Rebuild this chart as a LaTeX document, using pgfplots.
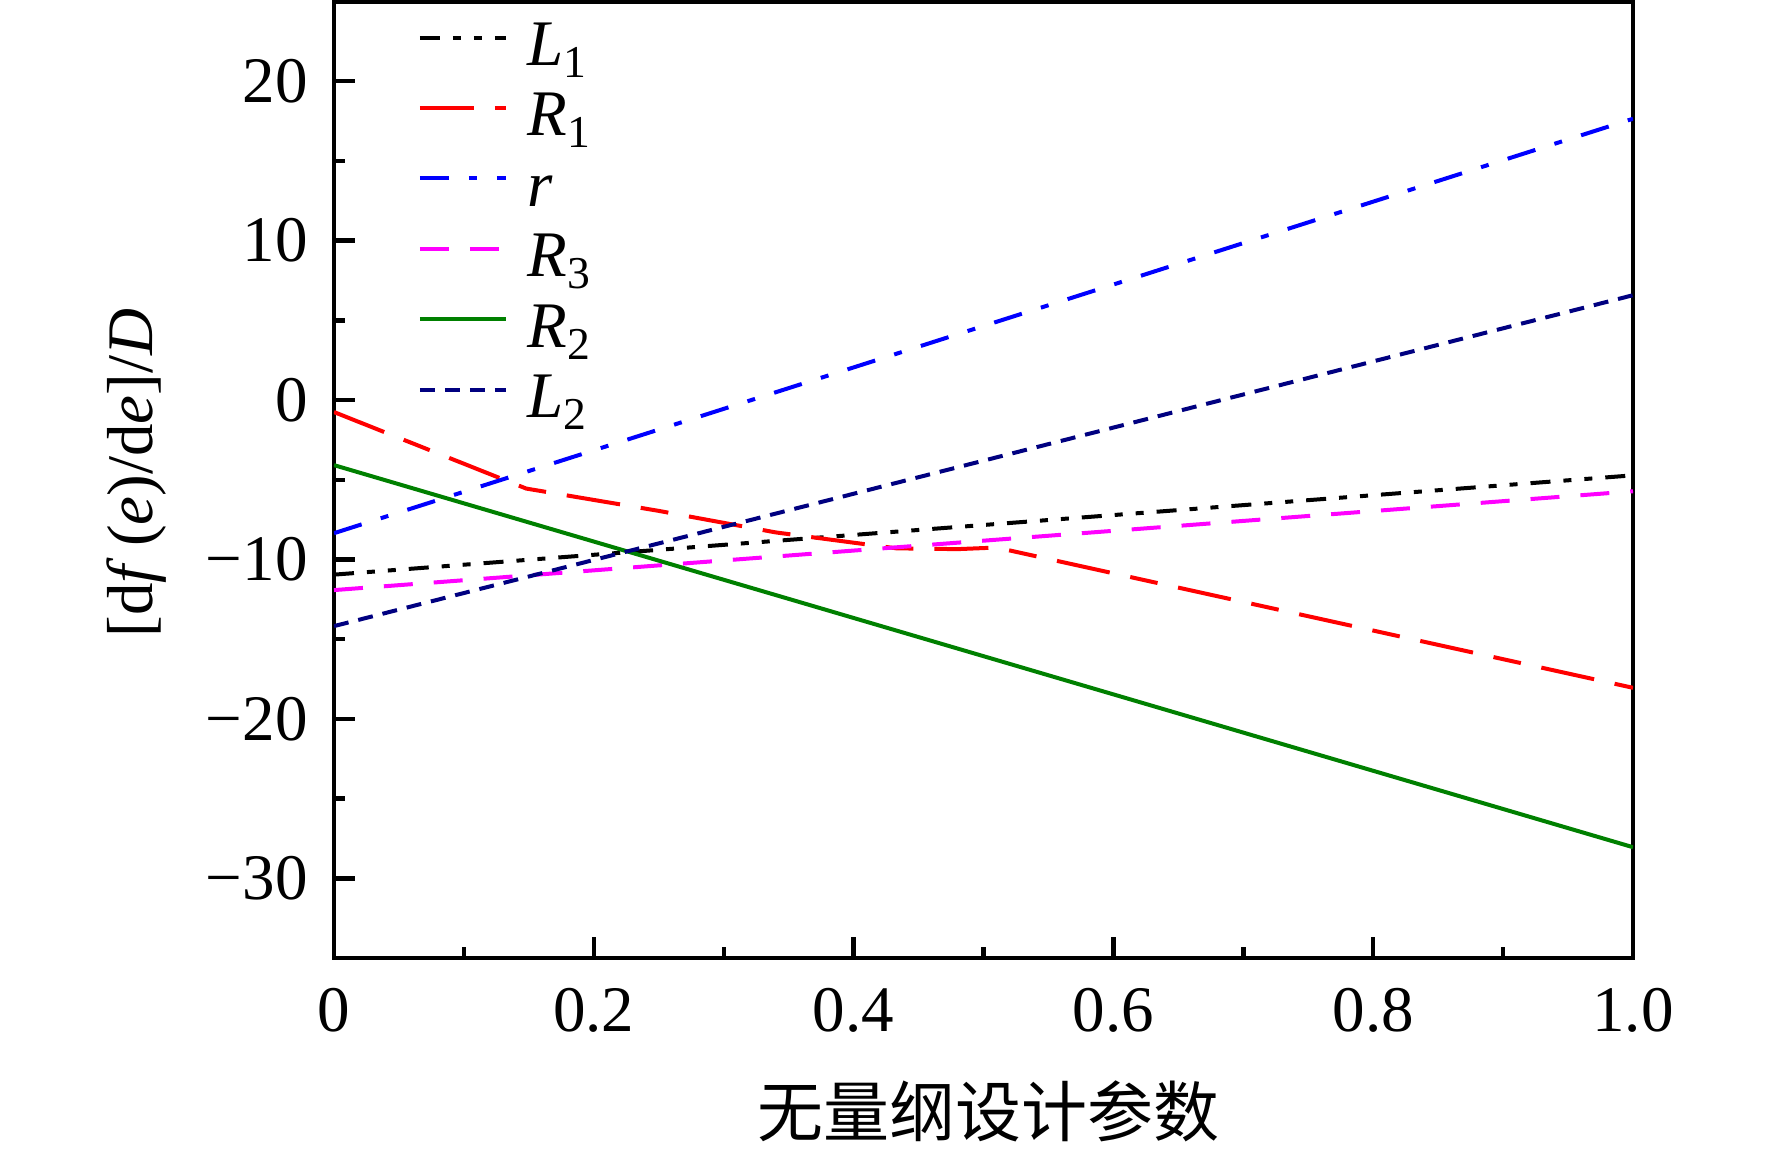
\documentclass[border=0pt]{standalone}
\usepackage{fontspec}
\setmainfont{Liberation Serif}
\newfontfamily\cjk{Noto Sans CJK SC}
\usepackage{pgfplots}
\pgfplotsset{compat=1.18}
\definecolor{navyc}{RGB}{0,0,128}
\definecolor{greenc}{RGB}{0,128,0}
\definecolor{magc}{RGB}{255,0,255}
\definecolor{redc}{RGB}{255,0,0}
\definecolor{bluec}{RGB}{0,0,255}
\newcommand\sub[1]{\raisebox{-3bp}{\fontsize{11.4bp}{12bp}\selectfont #1}}
\begin{document}
\fontsize{16.25bp}{19.5bp}\selectfont
\begin{tikzpicture}
\useasboundingbox (-83.5bp,-49bp) rectangle (359.5bp,239.5bp);
\begin{axis}[
  at={(0,0)}, anchor=south west,
  scale only axis, width=324.75bp, height=239.1bp,
  xmin=0, xmax=1, ymin=-35, ymax=25,
  xtick={0,0.2,0.4,0.6,0.8,1}, xticklabels={0,0.2,0.4,0.6,0.8,1.0},
  ytick={-30,-20,-10,0,10,20}, yticklabels={−30,−20,−10,0,10,20},
  minor x tick num=1, minor y tick num=1,
  tick pos=left, tick align=inside,
  major tick length=5.25bp, minor tick length=2.75bp,
  tick style={black, line width=1.1bp},
  axis line style={line width=1.1bp},
  xticklabel style={yshift=-2bp},
  yticklabel style={xshift=-1bp},
  xlabel={\fontsize{16.5bp}{19.5bp}\selectfont\cjk 无量纲设计参数},
  xlabel style={at={(axis description cs:0.504,-0.160)}, anchor=center},
  ylabel={[d\textit{f}\,(\textit{e})/d\textit{e}]/\textit{D}},
  ylabel style={at={(axis description cs:-0.1517,0.507)}, anchor=center},
  legend cell align=left,
  legend style={draw=none, fill=none, at={(axis description cs:0,1)}, anchor=north west,
    xshift=20.75bp, yshift=-0.8bp, inner sep=0pt, row sep=1.6bp, column sep=5bp,
    nodes={inner sep=0pt, text height=15bp, text depth=1bp}},
  legend image code/.code={\draw[#1] (0bp,0bp) -- (21.5bp,0bp);},
]
\addplot[black, line width=1bp, dash pattern=on 5bp off 3.25bp on 2bp off 3.25bp on 2bp off 3.25bp]
  coordinates {(0,-10.95) (1,-4.72)};
\addlegendentry{\textit{L}\sub{1}}
\addplot[redc, line width=1bp, dash pattern=on 13.5bp off 5.25bp on 7bp off 5.25bp]
  coordinates {(0,-0.75) (0.148,-5.55) (0.25,-6.95) (0.34,-8.3) (0.433,-9.3) (0.48,-9.35) (0.51,-9.25) (1,-18.05)};
\addlegendentry{\textit{R}\sub{1}}
\addplot[bluec, line width=1bp, dash pattern=on 7.25bp off 5bp on 2bp off 5bp]
  coordinates {(0,-8.35) (1,17.65)};
\addlegendentry{\textit{r}}
\addplot[magc, line width=1bp, dash pattern=on 7.25bp off 5.25bp]
  coordinates {(0,-11.92) (1,-5.72)};
\addlegendentry{\textit{R}\sub{3}}
\addplot[greenc, line width=1bp]
  coordinates {(0,-4.08) (1,-28.05)};
\addlegendentry{\textit{R}\sub{2}}
\addplot[navyc, line width=1bp, dash pattern=on 3.75bp off 2.5bp]
  coordinates {(0,-14.18) (1,6.58)};
\addlegendentry{\textit{L}\sub{2}}
\end{axis}
\end{tikzpicture}
\end{document}
